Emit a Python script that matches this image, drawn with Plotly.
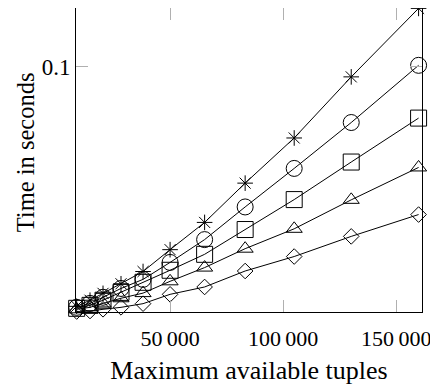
import plotly.graph_objects as go

tuples = [8700, 14600, 20350, 28300, 38050, 50000, 65270, 83190, 104870, 130090, 159870]

series_star = [0.0023, 0.0048, 0.0076, 0.0115, 0.0165, 0.0254, 0.0365, 0.0525, 0.0709, 0.0958, 0.1237]
series_circle = [0.0019, 0.0035, 0.0060, 0.0096, 0.0133, 0.0202, 0.0295, 0.0428, 0.0585, 0.0772, 0.1005]
series_square = [0.0015, 0.0027, 0.0048, 0.0080, 0.0121, 0.0170, 0.0235, 0.0336, 0.0458, 0.0611, 0.0790]
series_triangle = [0.0011, 0.0019, 0.0035, 0.0056, 0.0077, 0.0125, 0.0181, 0.0258, 0.0339, 0.0457, 0.0589]
series_diamond = [0.0002, 0.0004, 0.0011, 0.0019, 0.0034, 0.0072, 0.0102, 0.0167, 0.0226, 0.0308, 0.0397]

x_tickvals = [50000, 100000, 150000]
x_ticktext = ["50\u2009000", "100\u2009000", "150\u2009000"]
y_tickvals = [0.1]
y_ticktext = ["0.1"]

FONT = "Liberation Serif"

fig = go.Figure()
specs = [
    (series_star, "asterisk-open", 13),
    (series_circle, "circle-open", 16),
    (series_square, "square-open", 16),
    (series_triangle, "triangle-up-open", 14),
    (series_diamond, "diamond-open", 12),
]
for ys, sym, sz in specs:
    fig.add_trace(go.Scatter(
        x=tuples, y=ys, mode="lines+markers",
        line=dict(color="black", width=1),
        marker=dict(symbol=sym, size=sz, color="black", line=dict(color="black", width=1)),
        cliponaxis=False, showlegend=False,
    ))

axis_common = dict(
    showline=True, linecolor="black", linewidth=1, mirror="ticks",
    ticks="inside", ticklen=12, tickcolor="#b0b0b0", tickwidth=1.2,
    showgrid=False, zeroline=False,
    tickfont=dict(family=FONT, size=22, color="black"),
)

fig.update_layout(
    width=430, height=377,
    margin=dict(l=68, r=16, t=0, b=73),
    paper_bgcolor="white", plot_bgcolor="white",
    xaxis=dict(range=[8405, 161377], tickvals=x_tickvals, ticktext=x_ticktext,
               ticklabelstandoff=7,
               title=dict(text="Maximum available tuples", font=dict(family=FONT, size=26, color="black"), standoff=12),
               **axis_common),
    yaxis=dict(range=[0, 0.12386], tickvals=y_tickvals, ticktext=y_ticktext,
               tickfont=None,
               **{k: v for k, v in axis_common.items() if k != "tickfont"}),
    annotations=[dict(
        text="Time in seconds", textangle=-90,
        xref="paper", yref="paper", x=-0.147, y=0.526,
        xanchor="center", yanchor="middle", showarrow=False,
        font=dict(family=FONT, size=24.5, color="black"),
    )],
)
fig.update_yaxes(tickfont=dict(family=FONT, size=23, color="black"))

fig.write_html("out.html")
